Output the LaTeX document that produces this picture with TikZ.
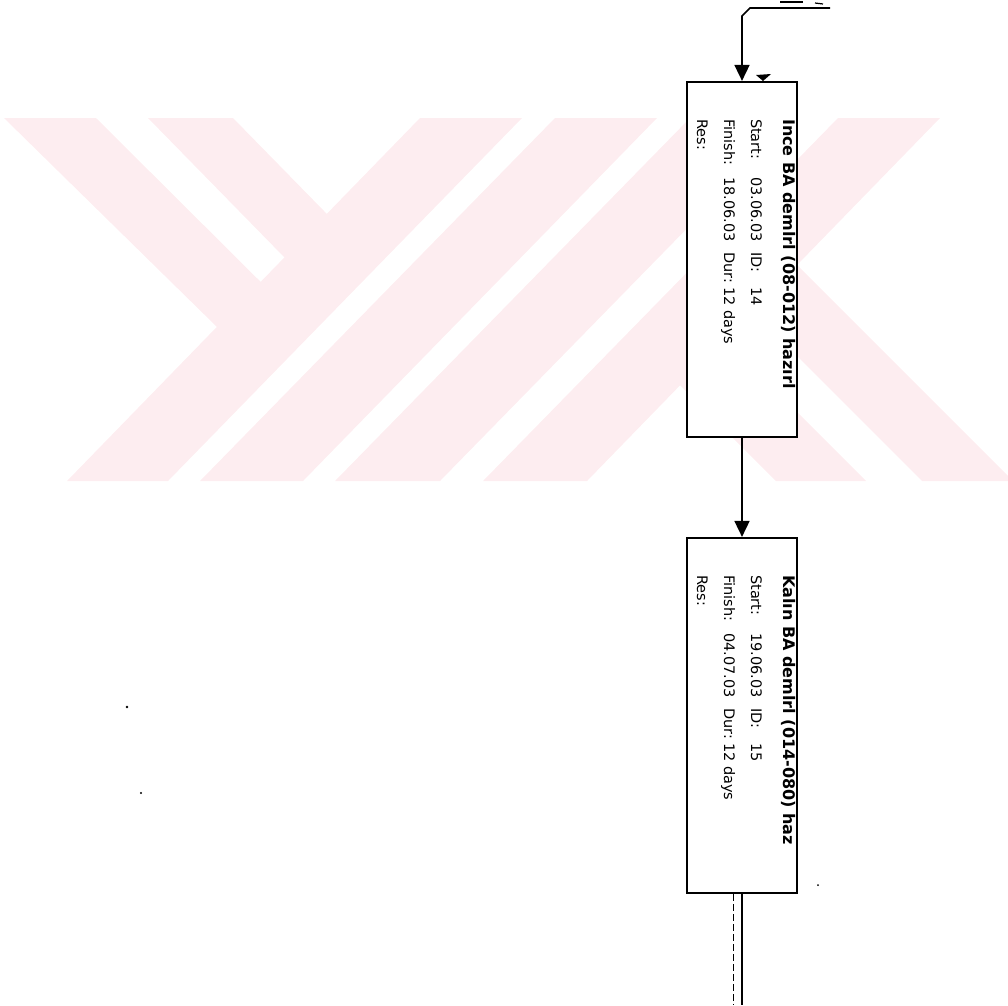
\documentclass[tikz,border=0pt]{standalone}
\usepackage{fontspec}
\setmainfont{DejaVu Sans}
\usetikzlibrary{arrows.meta,calc}
\definecolor{wmpink}{RGB}{253,237,240}
\newcommand{\tasktitle}{\fontsize{16}{27}\selectfont\bfseries}
\newcommand{\taskbody}{\fontsize{14.5}{27}\selectfont}

\begin{document}
\begin{tikzpicture}[x=1pt, y=-1pt,
        every node/.style={inner sep=0pt},
        taskbox/.style={draw, line width=2.2pt, fill=white, minimum width=110pt, minimum height=355pt},
        tasktext/.style={rotate=-90, anchor=base west, align=left},
        flow/.style={line width=1.7pt, -{Triangle[width=15pt, length=16pt]}}]
        \useasboundingbox (0,0) rectangle (1008,1005);

        % Watermark
        \fill[wmpink] (4,118) -- (96,118) -- (309,330) -- (217,327) -- cycle;
        \fill[wmpink] (148,118) -- (233,118) -- (370,258) -- (285,258) -- cycle;
        \fill[wmpink] (420,118) -- (522,118) -- (168,481) -- (67,481) -- cycle;
        \fill[wmpink] (555,118) -- (657,118) -- (303,481) -- (200,481) -- cycle;
        \fill[wmpink] (690,118) -- (795,118) -- (440,481) -- (335,481) -- cycle;
        \fill[wmpink] (838,118) -- (940,118) -- (587,481) -- (483,481) -- cycle;
        \fill[wmpink] (700,259) -- (797,265) -- (1008,476) -- (1008,481) -- (922,481) -- cycle;
        \fill[wmpink] (628,333) -- (725,340) -- (866,481) -- (776,481) -- cycle;

        % Tasks
        \node[taskbox] (ince) at (742,259.5) {};
        \node[tasktext] (incetxt) at ($(ince.north east)+(-15,38)$) {\taskbody
            \begin{tabular}[t]{@{}p{58pt}@{}p{75pt}@{}p{35pt}@{}l@{}}
            \multicolumn{4}{@{}l@{}}{\tasktitle Ince BA demlrl (08-012) hazırl}\\[5pt]
            Start: & 03.06.03 & ID: & 14\\
            Finish: & 18.06.03 & Dur: & 12 days\\
            Res: & & &
            \end{tabular}};

        \node[taskbox] (kalin) at (742,715.5) {};
        \node[tasktext] (kalintxt) at ($(kalin.north east)+(-15,38)$) {\taskbody
            \begin{tabular}[t]{@{}p{58pt}@{}p{75pt}@{}p{35pt}@{}l@{}}
            \multicolumn{4}{@{}l@{}}{\tasktitle Kalın BA demlrl (014-080) haz}\\[5pt]
            Start: & 19.06.03 & ID: & 15\\
            Finish: & 04.07.03 & Dur: & 12 days\\
            Res: & & &
            \end{tabular}};

        % Links
        \coordinate (feed) at (830,8);
        \coordinate (bend) at (750,8);
        \coordinate (drop) at (742,16);
        \coordinate (out) at (742,1005);
        \draw[flow] (feed) -- (bend) -- (drop) -- (ince.north);
        \draw[flow] (ince.south) -- (kalin.north);
        \draw[line width=1.8pt] (kalin.south) -- (out);
        \draw[line width=0.6pt, dash pattern=on 7pt off 3pt] ($(kalin.south)+(-9,0)$) -- ($(out)+(-9,0)$);

        % Scan marks
        \draw[line width=1.5pt] (780,2) -- (803,2);
        \draw[line width=1.2pt] (815,3) -- (823,4);
        \fill (756,75) -- (771,74) -- (763,81) -- cycle;
        \fill (127,707) circle[radius=1.3pt];
        \fill (141,793) circle[radius=1.1pt];
        \fill (818,885) circle[radius=1pt];
    \end{tikzpicture}
\end{document}
